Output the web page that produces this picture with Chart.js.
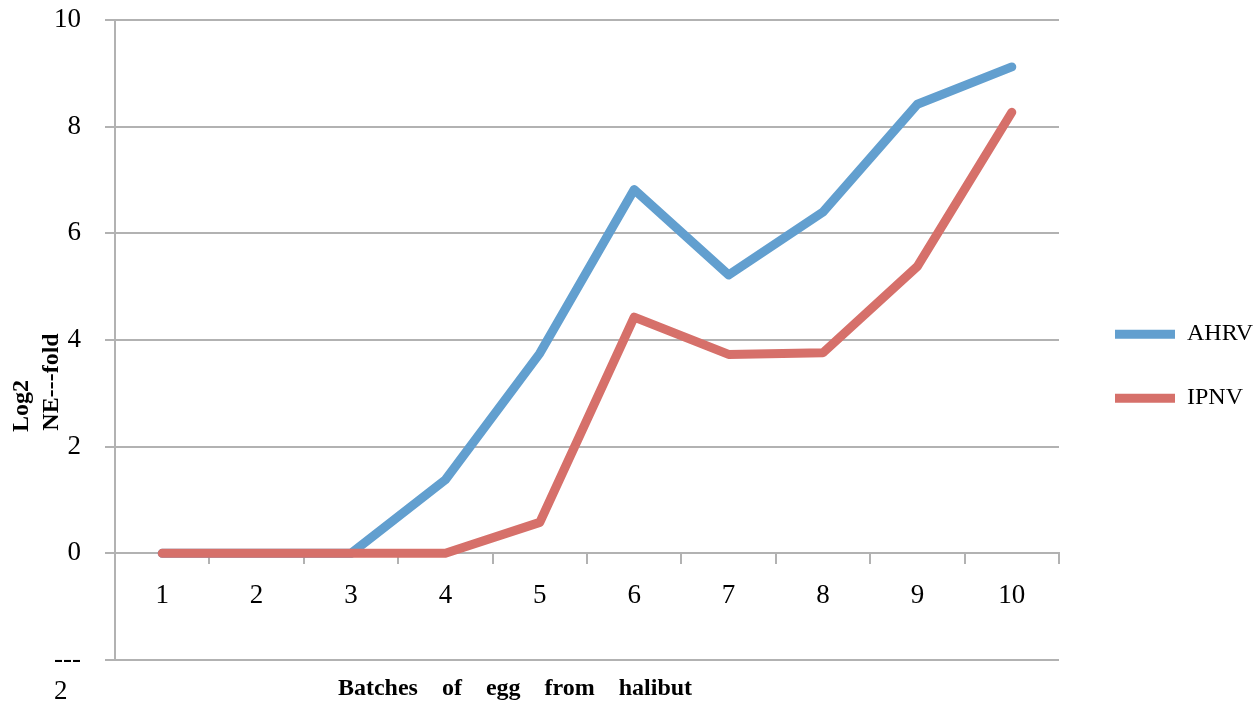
<!DOCTYPE html>
<html>
<head>
<meta charset="utf-8">
<script src="https://cdn.jsdelivr.net/npm/chart.js@4"></script>
<style>
  body { margin: 0; background: #fff; }
  #wrap { width: 1256px; height: 704px; }
</style>
</head>
<body>
<div id="wrap"><canvas id="myChart"></canvas></div>
<script>
// batches 1..10
const batches = ['1', '2', '3', '4', '5', '6', '7', '8', '9', '10'];

// log2 fold values
const ahrv = [0, 0, 0, 1.38, 3.75, 6.82, 5.22, 6.4, 8.42, 9.12];
const ipnv = [0, 0, 0, 0, 0.58, 4.43, 3.73, 3.76, 5.38, 8.27];

const yTicks = [-2, 0, 2, 4, 6, 8, 10];

const gridGrey = '#b2b2b2';

Chart.defaults.font.family = 'Liberation Serif';
Chart.defaults.color = '#000';

const myChart = document.getElementById('myChart');

let lineChart = new Chart(myChart, {
  type: 'line',
  data: {
    labels: batches,
    datasets: [
      {
        label: 'AHRV',
        data: ahrv,
        borderColor: '#629fcf',
        backgroundColor: '#629fcf',
        borderWidth: 9,
        borderCapStyle: 'round',
        borderJoinStyle: 'round',
        pointRadius: 0,
        order: 2
      },
      {
        label: 'IPNV',
        data: ipnv,
        borderColor: '#d6706a',
        backgroundColor: '#d6706a',
        borderWidth: 9,
        borderCapStyle: 'round',
        borderJoinStyle: 'round',
        pointRadius: 0,
        order: 1
      }
    ]
  },
  options: {
    responsive: true,
    maintainAspectRatio: false,
    animation: false,
    layout: { padding: { top: 20, left: 0, right: 0, bottom: 44 } },
    scales: {
      x: {
        type: 'category',
        offset: true,
        position: { y: 0 },
        grid: {
          drawOnChartArea: false,
          drawTicks: true,
          tickLength: 10,
          offset: true,
          color: gridGrey,
          lineWidth: 2
        },
        border: { display: true, color: gridGrey, width: 2 },
        ticks: { font: { size: 27 }, color: '#000', padding: 16 },
        title: {
          display: true,
          // trailing blanks push the centred text to the left like the original
          text: 'Batches    of    egg    from    halibut' + ' '.repeat(24),
          font: { size: 24, weight: 'bold' },
          color: '#000',
          padding: { top: 47, bottom: 0 }
        }
      },
      y: {
        min: -2,
        max: 10,
        afterBuildTicks: s => { s.ticks = yTicks.map(v => ({ value: v })); },
        grid: { color: gridGrey, lineWidth: 2, drawTicks: true, tickLength: 10 },
        border: { display: true, color: gridGrey, width: 2 },
        ticks: {
          font: { size: 27, lineHeight: 1.2 },
          color: '#000',
          padding: 24,
          callback: v => v === -2 ? ['', '---', '2  '] : v
        },
        title: {
          display: true,
          text: ['Log2' + ' '.repeat(22), 'NE---fold' + ' '.repeat(14)],
          font: { size: 24, weight: 'bold', lineHeight: 1.25 },
          color: '#000',
          padding: { top: 7, bottom: 0 }
        },
        afterFit: s => {
          s.width = 115;
          // let the layout padding decide top / bottom of the plot
          s.paddingTop = 10;
          s.paddingBottom = 30;
        }
      },
      // empty axis, only keeps a gap between plot and legend
      yPad: {
        type: 'linear',
        position: 'right',
        display: true,
        ticks: { display: false },
        grid: { display: false },
        border: { display: false },
        afterFit: s => { s.width = 16; }
      }
    },
    plugins: {
      legend: {
        position: 'right',
        reverse: true,
        maxWidth: 181,
        // empty title only pushes the items a bit lower
        title: { display: true, text: '', padding: 19 },
        labels: {
          usePointStyle: true,
          pointStyle: 'line',
          pointStyleWidth: 60,
          padding: 40,
          font: { size: 24 },
          color: '#000'
        }
      },
      tooltip: { enabled: false }
    }
  }
});
</script>
</body>
</html>
